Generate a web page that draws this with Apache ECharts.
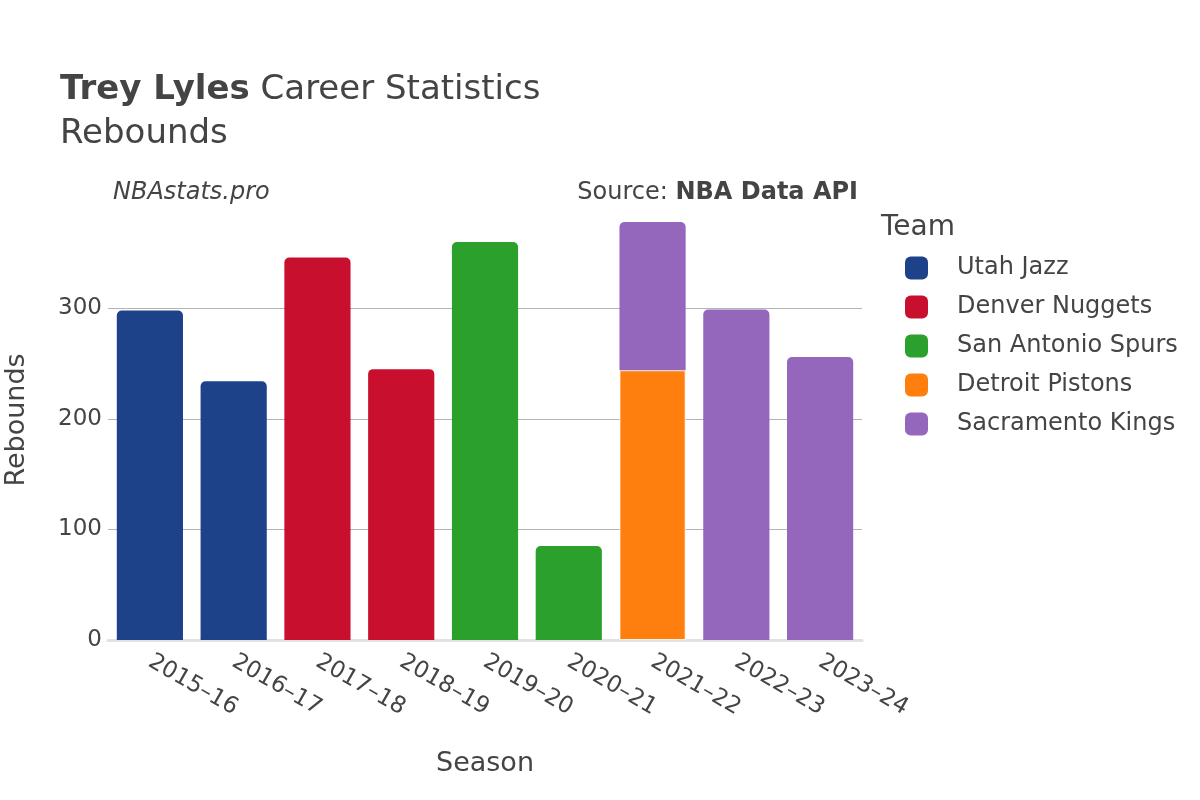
<!DOCTYPE html>
<html>
<head>
    <meta charset="utf-8">
    <title>Trey Lyles Rebounds</title>
    <script src="https://cdn.jsdelivr.net/npm/echarts@6/dist/echarts.min.js"></script>
    <style>
        body { margin: 0; background: #fff; }
    </style>
</head>
<body>
    <div id="main" style="width: 1200px;height:800px;"></div>
    <script type="text/javascript">
        // seasons and rebounds per team (null where the team did not play that season)
        var seasons = ['2015\u201316', '2016\u201317', '2017\u201318', '2018\u201319', '2019\u201320', '2020\u201321', '2021\u201322', '2022\u201323', '2023\u201324'];
        var teams = ['Utah Jazz', 'Denver Nuggets', 'San Antonio Spurs', 'Detroit Pistons', 'Sacramento Kings'];
        var utahJazz = [298, 234, null, null, null, null, null, null, null];
        var denverNuggets = [null, null, 346, 245, null, null, null, null, null];
        var sanAntonioSpurs = [null, null, null, null, 360, 85, null, null, null];
        var detroitPistons = [null, null, null, null, null, null, 244, null, null];
        var sacramentoKings = [null, null, null, null, null, null, 134, 299, 256];
        var teamColors = ['#1d428a', '#c8102e', '#2ca02c', '#ff7f0e', '#9467bd'];
        var gridValues = [100, 200, 300];

        var chartDom = document.getElementById('main');
        var myChart = echarts.init(chartDom);
        var font = 'DejaVu Sans';
        var textColor = '#444';

        var seriesData = [utahJazz, denverNuggets, sanAntonioSpurs, detroitPistons, sacramentoKings];
        var series = teams.map(function (name, i) {
            var isDet = name === 'Detroit Pistons';
            return {
                name: name,
                type: 'bar',
                stack: 'total',
                barCategoryGap: '21%',
                z: 3,
                data: seriesData[i],
                itemStyle: {
                    color: teamColors[i],
                    borderRadius: isDet ? 0 : [5, 5, 0, 0],
                    borderColor: isDet ? 'rgba(255,255,255,0.8)' : 'transparent',
                    borderWidth: isDet ? 1 : 0
                }
            };
        });
        // gridlines (everything but the top edge of the value range), drawn under the bars
        series.push({
            name: 'grid',
            type: 'line',
            data: [],
            z: 0,
            silent: true,
            markLine: {
                z: 0,
                symbol: 'none',
                silent: true,
                label: { show: false },
                lineStyle: { color: '#b4b4b4', width: 1, type: 'solid' },
                data: gridValues.map(function (v) { return { yAxis: v }; })
            }
        });

        var option = {
            animation: false,
            textStyle: { fontFamily: font },
            title: {
                left: 55,
                top: 63,
                text: '{b|Trey Lyles} Career Statistics\nRebounds',
                textStyle: {
                    fontFamily: font,
                    fontSize: 34,
                    fontWeight: 'normal',
                    color: textColor,
                    lineHeight: 44,
                    rich: {
                        b: { fontFamily: font, fontSize: 34, fontWeight: 'bold', color: textColor }
                    }
                }
            },
            graphic: [
                {
                    type: 'text', left: 113, top: 181,
                    style: { text: 'NBAstats.pro', fontFamily: font, fontSize: 24, fontStyle: 'italic', fill: textColor }
                },
                {
                    type: 'text', right: 342, top: 181,
                    style: {
                        text: 'Source: {b|NBA Data API}', fontFamily: font, fontSize: 24, fill: textColor,
                        rich: { b: { fontFamily: font, fontSize: 24, fontWeight: 'bold', fill: textColor } }
                    }
                },
                {
                    type: 'text', left: 881, top: 214,
                    style: { text: 'Team', fontFamily: font, fontSize: 28, fill: textColor }
                }
            ],
            legend: {
                orient: 'vertical',
                left: 905,
                top: 256,
                padding: 0,
                itemWidth: 23,
                itemHeight: 23,
                itemGap: 15,
                icon: 'roundRect',
                data: teams,
                itemStyle: { borderWidth: 0 },
                textStyle: { fontFamily: font, fontSize: 24, color: textColor, padding: [0, 0, 0, 24] }
            },
            grid: {
                left: 108,
                right: 338,
                top: 200,
                bottom: 160,
                outerBoundsMode: 'none'
            },
            xAxis: {
                type: 'category',
                data: seasons,
                name: 'Season',
                nameLocation: 'middle',
                nameGap: 110,
                nameTextStyle: { fontFamily: font, fontSize: 27, color: textColor },
                axisLine: { show: true, lineStyle: { color: '#e2e2e2', width: 3 } },
                axisTick: { show: false },
                axisLabel: {
                    rotate: -30,
                    margin: 20,
                    fontFamily: font,
                    fontSize: 23,
                    color: textColor
                }
            },
            yAxis: {
                type: 'value',
                min: 0,
                max: 398,
                interval: 100,
                name: 'Rebounds',
                nameLocation: 'middle',
                nameGap: 78,
                nameTextStyle: { fontFamily: font, fontSize: 27, color: textColor },
                axisLine: { show: false },
                axisTick: { show: false },
                axisLabel: {
                    fontFamily: font,
                    fontSize: 23,
                    color: textColor,
                    margin: 6,
                    showMaxLabel: false
                },
                splitLine: { show: false }
            },
            series: series
        };

        option && myChart.setOption(option);
    </script>
</body>
</html>
